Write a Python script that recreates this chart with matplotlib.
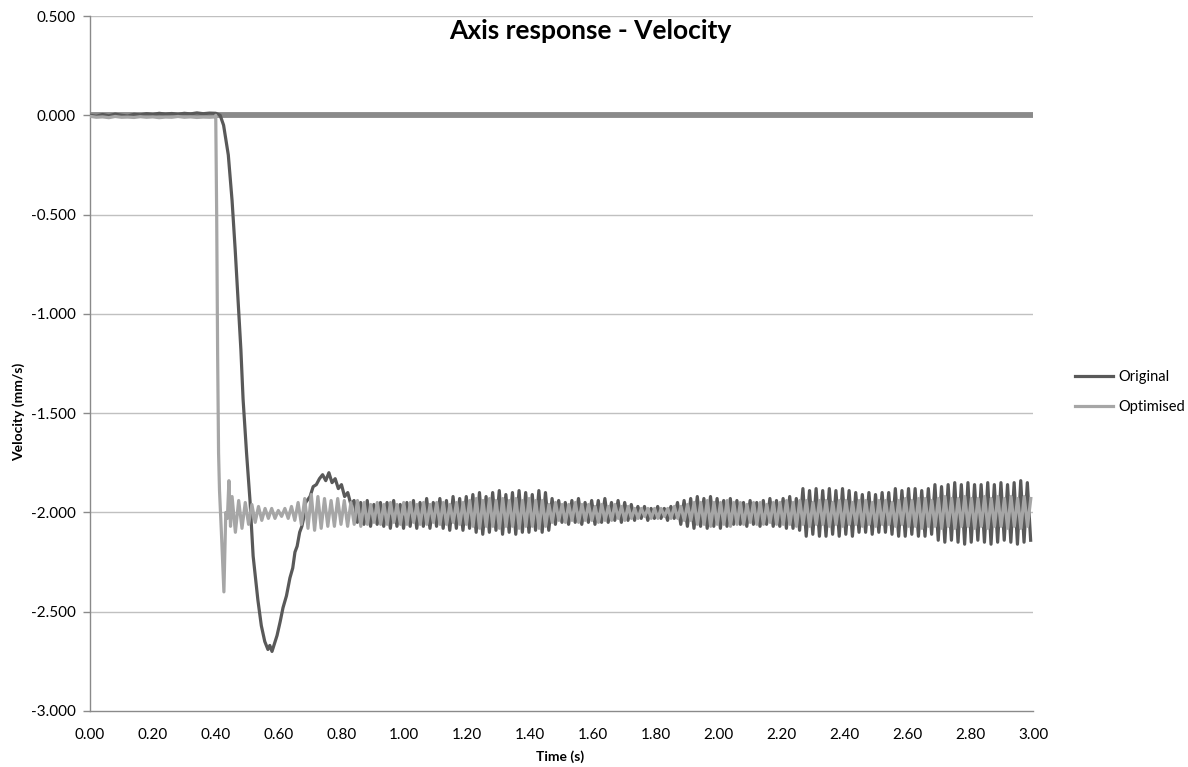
import numpy as np
import matplotlib
matplotlib.use("Agg")
import matplotlib.pyplot as plt
from matplotlib.ticker import FormatStrFormatter

# ---------------- data ----------------
# quiet phase before the move
pre_t = [0.00, 0.02, 0.04, 0.06, 0.08, 0.10, 0.12, 0.14, 0.16, 0.18, 0.20,
         0.22, 0.24, 0.26, 0.28, 0.30, 0.32, 0.34, 0.36, 0.38, 0.40]
orig_pre = [0.000, -0.005, 0.004, -0.003, 0.006, 0.000, -0.004, 0.005, 0.002, 0.008, 0.004,
            0.010, 0.006, 0.009, 0.005, 0.010, 0.007, 0.012, 0.008, 0.011, 0.010]
opt_pre = [-0.005, -0.010, -0.008, -0.012, -0.006, -0.010, -0.009, -0.011, -0.007, -0.010, -0.008,
           -0.012, -0.009, -0.010, -0.006, -0.010, -0.008, -0.011, -0.009, -0.010, -0.008]

# transient of the original tuning
orig_tr_t = [0.414, 0.425, 0.440, 0.452, 0.462, 0.471, 0.480, 0.487, 0.498, 0.509, 0.519,
             0.534, 0.545, 0.556, 0.566, 0.572, 0.579, 0.587, 0.595, 0.605, 0.614, 0.625,
             0.636, 0.645, 0.652, 0.659, 0.667, 0.674, 0.681, 0.686, 0.700, 0.710, 0.720,
             0.730, 0.740, 0.750, 0.760, 0.770, 0.780, 0.790, 0.800, 0.810, 0.820, 0.830]
orig_tr_v = [0.00, -0.05, -0.20, -0.43, -0.68, -0.93, -1.18, -1.43, -1.70, -1.94, -2.22,
             -2.44, -2.57, -2.65, -2.69, -2.67, -2.70, -2.66, -2.62, -2.55, -2.48, -2.42,
             -2.33, -2.28, -2.20, -2.17, -2.10, -2.07, -2.02, -1.95, -1.92, -1.87, -1.86,
             -1.83, -1.81, -1.84, -1.80, -1.85, -1.83, -1.88, -1.86, -1.92, -1.90, -1.96]

# transient of the optimised tuning
opt_tr_t = [0.400, 0.403, 0.406, 0.409, 0.412, 0.418, 0.426, 0.432, 0.437, 0.442, 0.447]
opt_tr_v = [0.00, -0.50, -1.20, -1.70, -1.89, -2.10, -2.40, -2.00, -2.03, -1.84, -2.07]

# steady oscillation: successive crests and troughs (period ~0.021 s)
osc_period = 0.021
orig_osc_start = 0.840
orig_hi = [-1.94, -1.95, -1.94, -1.96, -1.95,
           -1.95, -1.94, -1.96, -1.95, -1.94, -1.95, -1.93, -1.95,
           -1.93, -1.94, -1.92, -1.93, -1.92,
           -1.91, -1.90, -1.92, -1.90, -1.89, -1.91, -1.90, -1.89, -1.90, -1.91, -1.89, -1.90,
           -1.93, -1.94, -1.95, -1.94, -1.93, -1.95, -1.94, -1.94, -1.93, -1.95, -1.94, -1.95, -1.96,
           -1.97, -1.97, -1.98, -1.97, -1.98, -1.97,
           -1.95, -1.94, -1.93, -1.92, -1.93, -1.92, -1.93, -1.94, -1.93,
           -1.94, -1.95, -1.94, -1.95, -1.94, -1.93, -1.94,
           -1.93, -1.92, -1.93,
           -1.88, -1.89, -1.88, -1.89, -1.88, -1.89, -1.88, -1.89,
           -1.90, -1.91, -1.90, -1.91, -1.90, -1.90,
           -1.88, -1.89, -1.88, -1.88, -1.89, -1.88,
           -1.86, -1.87, -1.86, -1.85, -1.86, -1.85, -1.86, -1.86, -1.85, -1.86, -1.85, -1.86,
           -1.85, -1.84, -1.85]
orig_lo = [-2.05, -2.06, -2.07, -2.06, -2.07,
           -2.08, -2.07, -2.08, -2.07, -2.08, -2.07, -2.08, -2.07,
           -2.08, -2.09, -2.08, -2.09, -2.08,
           -2.10, -2.11, -2.10, -2.09, -2.11, -2.10, -2.11, -2.10, -2.10, -2.09, -2.10, -2.09,
           -2.06, -2.05, -2.06, -2.05, -2.06, -2.05, -2.06, -2.05, -2.05, -2.04, -2.05, -2.04, -2.04,
           -2.03, -2.04, -2.03, -2.03, -2.04, -2.03,
           -2.06, -2.07, -2.08, -2.07, -2.08, -2.07, -2.08, -2.07, -2.06,
           -2.06, -2.07, -2.06, -2.07, -2.06, -2.07, -2.07,
           -2.08, -2.08, -2.09,
           -2.12, -2.11, -2.12, -2.12, -2.11, -2.12, -2.11, -2.12,
           -2.10, -2.10, -2.11, -2.10, -2.10, -2.11,
           -2.12, -2.12, -2.11, -2.12, -2.12, -2.11,
           -2.14, -2.15, -2.14, -2.15, -2.16, -2.15, -2.14, -2.15, -2.16, -2.15, -2.14, -2.15,
           -2.16, -2.15, -2.14]

opt_osc_start = 0.452
opt_hi = [-1.92, -1.94, -1.95, -1.96, -1.97,
          -1.98, -1.98, -1.99, -1.98, -1.97,
          -1.95, -1.93, -1.91, -1.92, -1.93,
          -1.94, -1.93, -1.94, -1.95, -1.94,
          -1.95, -1.96, -1.95, -1.96, -1.95, -1.96, -1.95, -1.95, -1.96, -1.95, -1.96, -1.95,
          -1.95, -1.96, -1.95, -1.95,
          -1.94, -1.93, -1.94, -1.93, -1.94, -1.93, -1.94, -1.93, -1.94, -1.93, -1.94, -1.94,
          -1.96, -1.95, -1.96, -1.96, -1.95, -1.96, -1.96, -1.97, -1.96, -1.97, -1.96, -1.97,
          -1.97, -1.98, -1.98, -1.98, -1.98, -1.98, -1.98, -1.97, -1.97, -1.96,
          -1.95, -1.95, -1.94, -1.95, -1.95, -1.94, -1.95, -1.95, -1.96, -1.95, -1.95, -1.96,
          -1.95, -1.95,
          -1.94, -1.95, -1.94, -1.94, -1.95, -1.94, -1.94, -1.95, -1.94, -1.94, -1.95, -1.94,
          -1.94, -1.95, -1.94, -1.94, -1.95, -1.94,
          -1.93, -1.94, -1.93, -1.93, -1.94, -1.93, -1.92, -1.93, -1.93, -1.92, -1.93, -1.93,
          -1.92, -1.93, -1.92, -1.93, -1.92, -1.93, -1.92, -1.93]
opt_lo = [-2.10, -2.08, -2.06, -2.05, -2.04,
          -2.03, -2.03, -2.02, -2.03, -2.04,
          -2.06, -2.08, -2.09, -2.08, -2.07,
          -2.07, -2.06, -2.07, -2.06, -2.07,
          -2.06, -2.05, -2.06, -2.06, -2.05, -2.06, -2.06, -2.05, -2.06, -2.06, -2.05, -2.06,
          -2.06, -2.05, -2.06, -2.06,
          -2.07, -2.08, -2.07, -2.07, -2.08, -2.07, -2.07, -2.08, -2.07, -2.07, -2.08, -2.07,
          -2.05, -2.04, -2.05, -2.04, -2.05, -2.04, -2.04, -2.05, -2.04, -2.04, -2.03, -2.04,
          -2.03, -2.03, -2.02, -2.03, -2.03, -2.02, -2.03, -2.03, -2.04, -2.04,
          -2.06, -2.06, -2.07, -2.06, -2.06, -2.07, -2.06, -2.06, -2.05, -2.06, -2.06, -2.05,
          -2.06, -2.06,
          -2.06, -2.07, -2.06, -2.07, -2.06, -2.06, -2.07, -2.06, -2.07, -2.06, -2.06, -2.07,
          -2.06, -2.07, -2.06, -2.06, -2.07, -2.06,
          -2.07, -2.07, -2.08, -2.07, -2.07, -2.08, -2.07, -2.08, -2.07, -2.07, -2.08, -2.07,
          -2.08, -2.07, -2.07, -2.08, -2.07, -2.08, -2.07, -2.07]

series_names = ["Original", "Optimised"]
x_ticks = [round(0.2 * i, 2) for i in range(16)]
y_ticks = [0.5, 0.0, -0.5, -1.0, -1.5, -2.0, -2.5, -3.0]


def oscillation(start, hi, lo):
    t_hi = start + osc_period * np.arange(len(hi))
    t_lo = t_hi + osc_period / 2
    t = np.empty(2 * len(hi))
    v = np.empty(2 * len(hi))
    t[0::2], t[1::2] = t_hi, t_lo
    v[0::2], v[1::2] = hi, lo
    return t, v


ot, ov = oscillation(orig_osc_start, orig_hi, orig_lo)
pt, pv = oscillation(opt_osc_start, opt_hi, opt_lo)
orig_t = np.concatenate([pre_t, orig_tr_t, ot])
orig_v = np.concatenate([orig_pre, orig_tr_v, ov])
opt_t = np.concatenate([pre_t, opt_tr_t, pt])
opt_v = np.concatenate([opt_pre, opt_tr_v, pv])
keep_o = orig_t <= 3.0
keep_p = opt_t <= 3.0

# ---------------- figure ----------------
plt.rcParams['font.family'] = ['Lato', 'DejaVu Sans']
fig = plt.figure(figsize=(11.88, 7.67), dpi=100)
ax = fig.add_axes([90 / 1188, 1 - 711 / 767, (1033 - 90) / 1188, (711 - 16) / 767])

grid_c = '#c0c0c0'
axis_c = '#8a8a8a'
for yv in y_ticks:
    if yv not in (0.0, -3.0):
        ax.axhline(yv, color=grid_c, lw=1.0, zorder=0)
ax.axhline(0.0, color=axis_c, lw=4.2, zorder=1)

ax.plot(orig_t[keep_o], orig_v[keep_o], color='#595959', lw=2.3, label=series_names[0],
        zorder=3, solid_joinstyle='round')
ax.plot(opt_t[keep_p], opt_v[keep_p], color='#a6a6a6', lw=2.3, label=series_names[1],
        zorder=4, solid_joinstyle='round')

ax.set_xlim(0, 3.0)
ax.set_ylim(-3.0, 0.5)
ax.set_xticks(x_ticks)
ax.set_yticks(y_ticks)
ax.xaxis.set_major_formatter(FormatStrFormatter('%.2f'))
ax.yaxis.set_major_formatter(FormatStrFormatter('%.3f'))

for s in ['top', 'right']:
    ax.spines[s].set_visible(False)
for s in ['left', 'bottom']:
    ax.spines[s].set_color(axis_c)
    ax.spines[s].set_linewidth(1.0)
ax.tick_params(axis='y', direction='out', length=5, width=1, color=axis_c,
               labelsize=11, pad=5, labelcolor='#000000')
ax.tick_params(axis='x', length=0, labelsize=11, pad=12, labelcolor='#000000')

ax.set_xlabel('Time (s)', fontsize=10, fontweight='bold')
ax.xaxis.set_label_coords((560 - 90) / 943, -(750 - 711) / 695)
ax.set_ylabel('Velocity (mm/s)', fontsize=10, fontweight='bold')
ax.yaxis.set_label_coords(-(90 - 25) / 943, 1 - (412 - 16) / 695)
fig.text(590 / 1188, 1 - 31 / 767, 'Axis response - Velocity', fontsize=19,
         fontweight='bold', ha='center', va='center')

leg = ax.legend(loc='center left', bbox_to_anchor=((1075 - 90) / 943, 1 - (392 - 16) / 695),
                frameon=False, borderpad=0, borderaxespad=0,
                fontsize=10.5, handlelength=2.6, handletextpad=0.35, labelspacing=1.15)

fig.savefig('out.png', dpi=100, facecolor='white')
